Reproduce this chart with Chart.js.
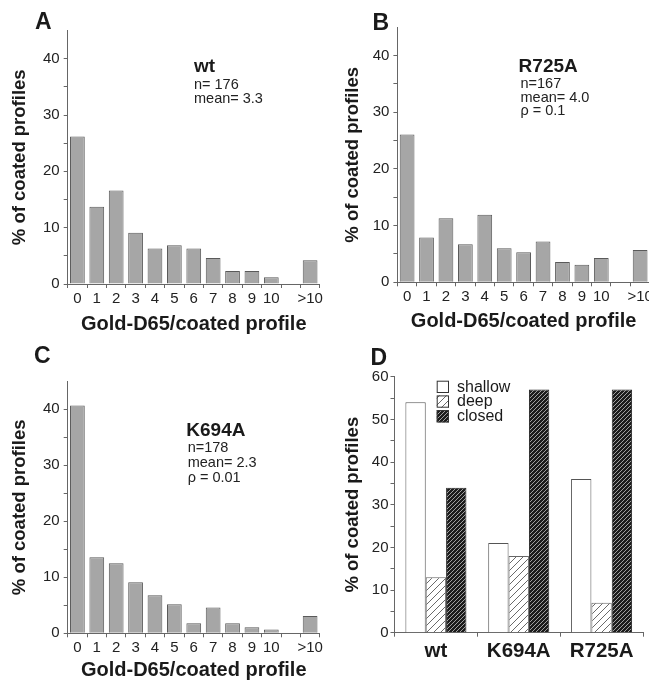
<!DOCTYPE html>
<html><head><meta charset="utf-8">
<script src="https://cdn.jsdelivr.net/npm/chart.js@4.4.1/dist/chart.umd.min.js"></script>
<style>
html,body{margin:0;padding:0;background:#fff;overflow:hidden;width:649px;height:680px;}
#wrap{position:relative;width:649px;height:680px;overflow:hidden;font-family:"Liberation Sans",Arial,Helvetica,sans-serif;color:#1a1a1a;}
.cv{position:absolute;}
.t{position:absolute;line-height:1;white-space:nowrap;}
.pl{font-weight:bold;font-size:23px;}
.ah{font-weight:bold;font-size:19px;}
.an{font-size:14.5px;color:#222;}
</style></head><body><div id="wrap">
<div class="cv" style="left:0;top:0;width:325px;height:340px"><canvas id="cA"></canvas></div>
<div class="cv" style="left:325px;top:0;width:330px;height:340px"><canvas id="cB"></canvas></div>
<div class="cv" style="left:0;top:340px;width:325px;height:340px"><canvas id="cC"></canvas></div>
<div class="cv" style="left:325px;top:335px;width:324px;height:345px"><canvas id="cD"></canvas></div>

<div class="t pl" style="left:35px;top:9.8px">A</div>
<div class="t pl" style="left:372.5px;top:10.5px">B</div>
<div class="t pl" style="left:34px;top:343.8px">C</div>
<div class="t pl" style="left:370.5px;top:345.5px">D</div>

<div class="t ah" style="left:194px;top:56px">wt</div>
<div class="t an" style="left:194px;top:76.7px">n= 176</div>
<div class="t an" style="left:194px;top:91.2px">mean= 3.3</div>

<div class="t ah" style="left:518.6px;top:55.6px">R725A</div>
<div class="t an" style="left:520.5px;top:75.7px">n=167</div>
<div class="t an" style="left:520.5px;top:89.7px">mean= 4.0</div>
<div class="t an" style="left:520.5px;top:103.2px">ρ = 0.1</div>

<div class="t ah" style="left:186.3px;top:419.6px">K694A</div>
<div class="t an" style="left:187.7px;top:439.7px">n=178</div>
<div class="t an" style="left:187.7px;top:454.7px">mean= 2.3</div>
<div class="t an" style="left:187.7px;top:469.7px">ρ = 0.01</div>
</div>
<script>
// ---- data ----
const histLabels = ['0','1','2','3','4','5','6','7','8','9','10','','>10'];
const wtValues    = [26.2, 13.7, 16.6, 9.1, 6.3, 6.9, 6.3, 4.6, 2.3, 2.3, 1.2, null, 4.2];
const r725aValues = [26.1, 7.9, 11.3, 6.7, 11.9, 6.0, 5.3, 7.2, 3.6, 3.1, 4.3, null, 5.7];
const k694aValues = [40.7, 13.6, 12.5, 9.1, 6.8, 5.2, 1.8, 4.6, 1.8, 1.1, 0.7, null, 3.1];
const histMax = 45;
const histStep = 5;
const histLabelEvery = 10;

const groupLabels   = ['wt', 'K694A', 'R725A'];
const seriesNames   = ['shallow', 'deep', 'closed'];
const shallowValues = [54, 21, 36];
const deepValues    = [13, 18, 7];
const closedValues  = [34, 57, 57];
const groupMax = 60;
const groupStep = 5;

const xTitleText = 'Gold-D65/coated profile';
const yTitleText = '% of coated profiles';

// ---- styling / layout ----
const FONT = '"Liberation Sans", Arial, Helvetica, sans-serif';
Chart.defaults.font.family = FONT;
Chart.defaults.color = '#222';
Chart.defaults.animation = false;

function histChart(id, values, g) {
  const ctx = document.getElementById(id);
  const tickFont = {size: 15, family: FONT};
  const yTitleFont = {size: 18.5, weight: 'bold', family: FONT};
  const xTitleFont = {size: 20, weight: 'bold', family: FONT};
  return new Chart(ctx, {
    type: 'bar',
    data: {
      labels: histLabels,
      datasets: [{
        data: values,
        backgroundColor: '#a6a6a6',
        borderColor: '#5a5a5a',
        borderWidth: 1,
        categoryPercentage: 1,
        barPercentage: 0.76
      }]
    },
    options: {
      responsive: true,
      maintainAspectRatio: false,
      animation: false,
      layout: {padding: {left: 0, top: g.top, right: g.W - g.right, bottom: 0}},
      plugins: {legend: {display: false}, tooltip: {enabled: false}},
      scales: {
        x: {
          grid: {display: true, drawOnChartArea: false, drawTicks: true, tickLength: 4, color: '#666', offset: true},
          border: {display: true, color: '#666', width: 1},
          ticks: {font: tickFont, color: '#222', padding: 2, maxRotation: 0, autoSkip: false},
          title: {display: true, text: xTitleText, font: xTitleFont, color: '#1a1a1a',
                  padding: {top: 0, bottom: g.H - g.xTitleY - xTitleFont.size * 0.6}},
          afterFit: s => { s.height = g.H - g.bottom; }
        },
        y: {
          min: 0, max: histMax,
          grid: {display: true, drawOnChartArea: false, drawTicks: true, tickLength: 4,
                 color: c => (c.tick && c.tick.value === histMax) ? 'rgba(0,0,0,0)' : '#666'},
          border: {display: true, color: '#666', width: 1},
          ticks: {stepSize: histStep, font: tickFont, color: '#222', padding: 4,
                  callback: v => (v % histLabelEvery === 0 ? String(v) : '')},
          title: {display: true, text: yTitleText, font: yTitleFont, color: '#1a1a1a',
                  padding: {top: g.yTitleX - yTitleFont.size * 0.6, bottom: 0}},
          afterFit: s => { s.width = g.left; }
        }
      }
    }
  });
}

// Panel A: canvas at page (0,0) 325x340
histChart('cA', wtValues, {W: 325, H: 340, left: 67.7, top: 30.5, right: 320.6, bottom: 284, yTitleX: 20, xTitleY: 324});
// Panel B: canvas at page (325,0) 330x340
histChart('cB', r725aValues, {W: 330, H: 340, left: 72.4, top: 27.3, right: 326, bottom: 282.3, yTitleX: 28.3, xTitleY: 321});
// Panel C: canvas at page (0,340) 325x340
histChart('cC', k694aValues, {W: 325, H: 340, left: 67.7, top: 41.3, right: 320.6, bottom: 293.3, yTitleX: 20, xTitleY: 330});

// ---- panel D ----
function hatch(size, bg, fg, lw) {
  const c = document.createElement('canvas');
  c.width = size; c.height = size;
  const g = c.getContext('2d');
  g.fillStyle = bg; g.fillRect(0, 0, size, size);
  g.strokeStyle = fg; g.lineWidth = lw;
  g.beginPath();
  g.moveTo(0, size); g.lineTo(size, 0);
  g.moveTo(-size / 2, size / 2); g.lineTo(size / 2, -size / 2);
  g.moveTo(size / 2, size * 1.5); g.lineTo(size * 1.5, size / 2);
  g.stroke();
  return g.createPattern(c, 'repeat');
}
const deepFill = hatch(7, '#ffffff', '#6a6a6a', 1);
const closedFill = hatch(4, '#1c1c1c', '#b0b0b0', 0.9);

const legendPlugin = {
  id: 'boxLegend',
  afterDraw(chart) {
    const ctx = chart.ctx;
    const x0 = 111.7, y0 = 45.7, box = 12.3, rowH = 14.7;
    ctx.save();
    chart.data.datasets.forEach((ds, i) => {
      const y = y0 + i * rowH;
      ctx.fillStyle = ds.backgroundColor;
      ctx.fillRect(x0, y, box, box);
      ctx.strokeStyle = '#333';
      ctx.lineWidth = 1;
      ctx.strokeRect(x0 + 0.5, y + 0.5, box - 1, box - 1);
      ctx.fillStyle = '#1a1a1a';
      ctx.font = '16px ' + FONT;
      ctx.textBaseline = 'middle';
      ctx.textAlign = 'left';
      ctx.fillText(ds.label, x0 + box + 8, y + box / 2 + 0.5);
    });
    ctx.restore();
  }
};

(function () {
  const g = {W: 324, H: 345, left: 69.5, top: 41.7, right: 318, bottom: 297.7, yTitleX: 27.5, labelY: 316};
  const tickFont = {size: 15, family: FONT};
  const catFont = {size: 20.5, weight: 'bold', family: FONT};
  const yTitleFont = {size: 18.5, weight: 'bold', family: FONT};
  new Chart(document.getElementById('cD'), {
    type: 'bar',
    data: {
      labels: groupLabels,
      datasets: [
        {label: seriesNames[0], data: shallowValues, backgroundColor: '#ffffff', borderColor: '#555', borderWidth: 1},
        {label: seriesNames[1], data: deepValues, backgroundColor: deepFill, borderColor: '#666', borderWidth: 1},
        {label: seriesNames[2], data: closedValues, backgroundColor: closedFill, borderColor: '#222', borderWidth: 1}
      ]
    },
    options: {
      responsive: true,
      maintainAspectRatio: false,
      animation: false,
      datasets: {bar: {categoryPercentage: 0.737, barPercentage: 1}},
      layout: {padding: {left: 0, top: g.top, right: g.W - g.right, bottom: 0}},
      plugins: {legend: {display: false}, tooltip: {enabled: false}},
      scales: {
        x: {
          grid: {display: true, drawOnChartArea: false, drawTicks: true, tickLength: 4, color: '#666', offset: true},
          border: {display: true, color: '#666', width: 1},
          ticks: {font: catFont, color: '#1a1a1a', padding: g.labelY - g.bottom - 4 - catFont.size * 0.6, maxRotation: 0, autoSkip: false},
          afterFit: s => { s.height = g.H - g.bottom; }
        },
        y: {
          min: 0, max: groupMax,
          grid: {display: true, drawOnChartArea: false, drawTicks: true, tickLength: 4, color: '#666'},
          border: {display: true, color: '#666', width: 1},
          ticks: {stepSize: groupStep, font: tickFont, color: '#222', padding: 2,
                  callback: v => (v % 10 === 0 ? String(v) : '')},
          title: {display: true, text: yTitleText, font: yTitleFont, color: '#1a1a1a',
                  padding: {top: g.yTitleX - yTitleFont.size * 0.6, bottom: 0}},
          afterFit: s => { s.width = g.left; }
        }
      }
    },
    plugins: [legendPlugin]
  });
})();
</script>
</body></html>
